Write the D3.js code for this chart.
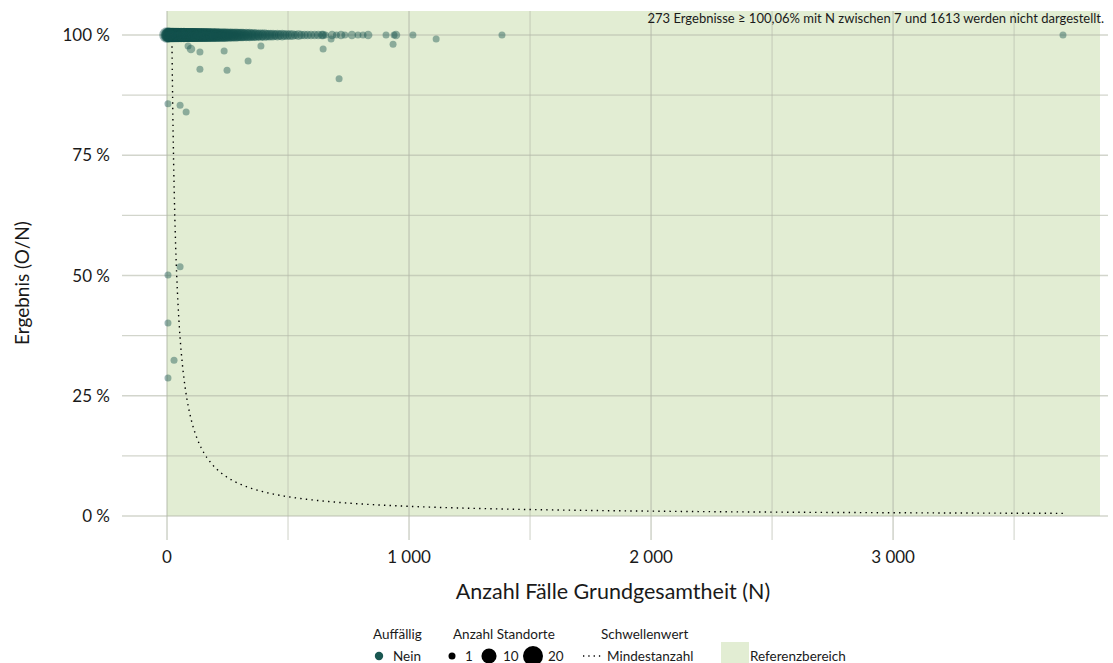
<!DOCTYPE html>
<html><head><meta charset="utf-8">
<script src="https://cdn.jsdelivr.net/npm/d3@7"></script>
<style>body{margin:0;background:#fff}svg{display:block}text{font-family:Lato,"Open Sans",sans-serif;fill:#1a1a1a}</style>
</head><body><div id="chart"></div>
<script>
// ---- data ----
const bandN = [3,5,6,8,9,11,12,14,15,17,18,20,22,23,25,27,28,30,32,34,35,37,39,41,43,44,46,48,50,52,54,56,58,60,62,64,66,68,70,73,75,77,80,82,85,87,90,92,95,98,100,103,106,108,111,114,117,120,123,126,129,132,135,138,141,145,148,151,155,158,162,165,169,172,176,180,184,188,192,196,200,204,209,213,218,222,227,232,236,241,246,251,256,262,267,272,278,284,290,296,302,308,314,320,327,334,341,348,355,362,370,378,386,394,402,411,420,429,438,447,456,466,476,486,497,508,519,531,543,555,568,581,595,610,625,640,655,672];
const bandCount = [9,8,9,8,9,8,9,8,9,8,9,8,9,8,9,8,8,9,8,8,9,8,8,9,8,8,8,9,8,8,8,8,9,8,8,8,8,8,9,8,8,8,8,8,8,8,8,8,8,8,8,8,8,8,8,8,8,8,8,8,7,8,8,7,8,8,7,8,8,7,8,7,8,7,8,7,7,8,7,7,7,8,7,7,7,7,7,7,7,7,7,6,7,6,7,6,6,7,6,6,6,6,6,5,6,5,6,5,5,5,5,4,5,4,5,4,4,4,4,3,4,3,4,3,3,3,3,2,3,2,2,2,2,2,2,2,1];
const otherN     = [0,   645,682,700,719,735,764,789,810,831,905,938,946,1016,1384,3702, 87,  99,  136, 236, 388, 136, 248, 335, 645, 678, 711, 934, 1112, 4,   54,  79,  54,  4,   4,   29,  4];
const otherPct   = [100, 100,100,100,100,100,100,100,100,100,100,100,100,100, 100, 100,  97.7,97.1,96.5,96.7,97.7,92.9,92.7,94.6,97.1,99.2,90.9,98.1,99.2, 85.7,85.4,84.0,51.8,50.1,40.1,32.4,28.7];
const otherCount = [11,  2,  2,  1,  2,  1,  2,  1,  1,  2,  1,  1,  2,  1,   1,   1,    1,   2,   1,   1,   1,   1,   1,   1,   1,   1,   1,   1,   1,    1,   1,   1,   1,   1,   1,   1,   1];
const xTicks = [0, 1000, 2000, 3000];
const xTickLabels = ["0", "1 000", "2 000", "3 000"];
const yTicks = [0, 25, 50, 75, 100];
const yTickLabels = ["0 %", "25 %", "50 %", "75 %", "100 %"];
const thresholdMin = 20;   // Mindestanzahl: O >= 20
const note = "273 Ergebnisse \u2265 100,06% mit N zwischen 7 und 1613 werden nicht dargestellt.";

const W = 1113, H = 663;
const svg = d3.select("#chart").append("svg").attr("width", W).attr("height", H);
const x = d3.scaleLinear().domain([-186, 3888]).range([122, 1108]);
const y = d3.scaleLinear().domain([-5, 105]).range([540, 11]);
const r = d3.scaleSqrt().domain([1, 20]).range([3.5, 10]);

// reference region
svg.append("rect").attr("x", x(0)).attr("y", y(105)).attr("width", x(3855) - x(0)).attr("height", y(0) - y(105)).attr("fill", "#e2edd3");

// grid
const g = svg.append("g");
d3.range(0, 101, 12.5).forEach(v => {
  g.append("line").attr("x1", 122).attr("x2", 1108).attr("y1", y(v)).attr("y2", y(v))
    .attr("stroke", "#b4b9aa").attr("stroke-opacity", 0.6).attr("stroke-width", v % 25 === 0 ? 1.6 : 1.1);
});
d3.range(0, 3501, 500).forEach(v => {
  g.append("line").attr("y1", 11).attr("y2", 540).attr("x1", x(v)).attr("x2", x(v))
    .attr("stroke", "#b4b9aa").attr("stroke-opacity", 0.6).attr("stroke-width", v % 1000 === 0 ? 1.6 : 1.1);
});

// threshold curve
const curveN = d3.range(thresholdMin, 3702, 4);
curveN.push(3702);
svg.append("path")
  .datum(curveN)
  .attr("d", d3.line().x(n => x(n)).y(n => y(100 * thresholdMin / n)))
  .attr("fill", "none").attr("stroke", "#000").attr("stroke-width", 1.4).attr("stroke-dasharray", "1.4 4.2");

// points
const pts = [];
bandN.forEach((n, i) => pts.push({n, p: 100, c: bandCount[i]}));
otherN.forEach((n, i) => pts.push({n, p: otherPct[i], c: otherCount[i]}));
svg.append("g").selectAll("circle").data(pts).join("circle")
  .attr("cx", d => x(d.n)).attr("cy", d => y(d.p)).attr("r", d => r(d.c))
  .attr("fill", "#14524c").attr("fill-opacity", 0.42);

// axes labels
svg.append("g").selectAll("text").data(yTicks).join("text")
  .attr("x", 110).attr("y", d => y(d)).attr("dy", "0.36em").attr("text-anchor", "end")
  .attr("font-size", 17).text((d, i) => yTickLabels[i]);
svg.append("g").selectAll("text").data(xTicks).join("text")
  .attr("x", d => x(d)).attr("y", 563).attr("text-anchor", "middle")
  .attr("font-size", 17).text((d, i) => xTickLabels[i]);
svg.append("text").attr("x", 613).attr("y", 599).attr("text-anchor", "middle").attr("font-size", 21.5)
  .text("Anzahl Fälle Grundgesamtheit (N)");
svg.append("text").attr("transform", "translate(29,283) rotate(-90)").attr("text-anchor", "middle").attr("font-size", 19)
  .text("Ergebnis (O/N)");

// note
svg.append("text").attr("x", 1104).attr("y", 23).attr("text-anchor", "end").attr("font-size", 13).text(note);

// legend
const L = svg.append("g").attr("font-size", 13.5);
L.append("text").attr("x", 373).attr("y", 639).text("Auffällig");
L.append("circle").attr("cx", 379).attr("cy", 656).attr("r", 4.2).attr("fill", "#1a5751");
L.append("text").attr("x", 393).attr("y", 661).text("Nein");
L.append("text").attr("x", 453).attr("y", 639).text("Anzahl Standorte");
[[1, 452, 465], [10, 489, 503], [20, 533, 548]].forEach(([c, cx, tx]) => {
  L.append("circle").attr("cx", cx).attr("cy", 656).attr("r", r(c)).attr("fill", "#000");
  L.append("text").attr("x", tx).attr("y", 661).text(c);
});
L.append("text").attr("x", 601).attr("y", 639).text("Schwellenwert");
L.append("line").attr("x1", 583).attr("x2", 604).attr("y1", 656).attr("y2", 656)
  .attr("stroke", "#000").attr("stroke-width", 1.3).attr("stroke-dasharray", "1.3 4");
L.append("text").attr("x", 607).attr("y", 661).text("Mindestanzahl");
L.append("rect").attr("x", 721).attr("y", 642).attr("width", 28).attr("height", 21).attr("fill", "#e2edd3");
L.append("text").attr("x", 750).attr("y", 661).text("Referenzbereich");
</script></body></html>
